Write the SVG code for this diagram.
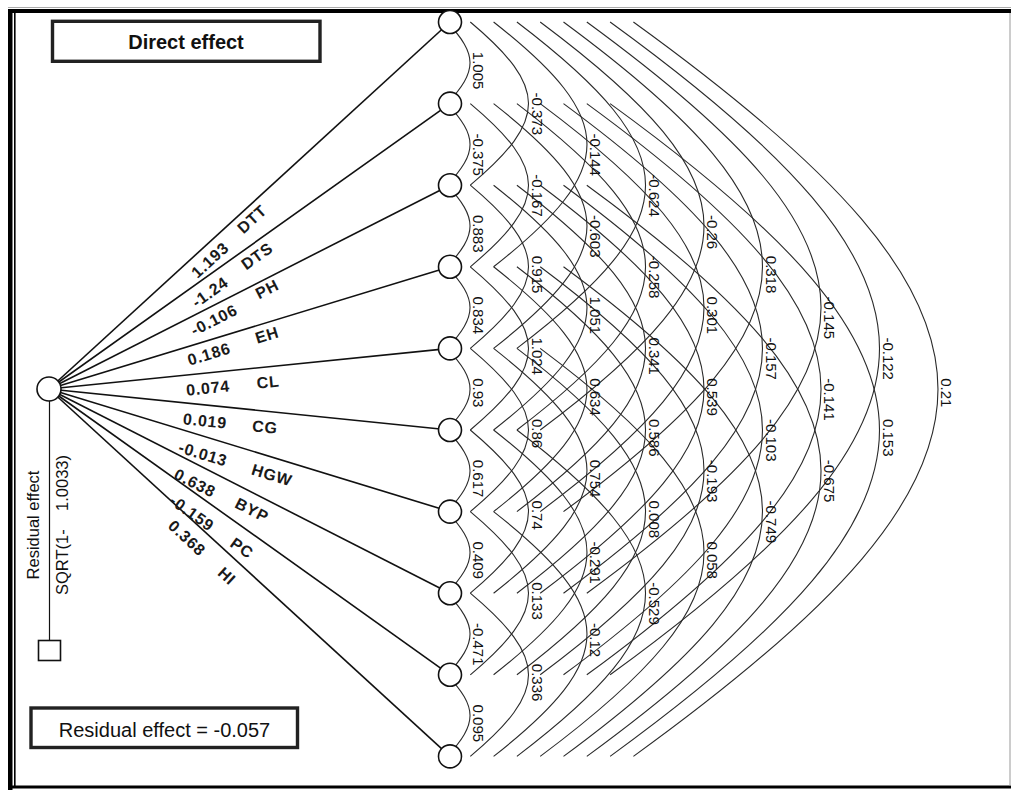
<svg xmlns="http://www.w3.org/2000/svg" width="1011" height="790" viewBox="0 0 1011 790">
<style>
.ln{stroke:#111;stroke-width:1.6;fill:none}
.arcs{stroke:#2a2a2a;stroke-width:1.1;fill:none}
.nd{fill:#fff;stroke:#111;stroke-width:1.6}
.lab{font-family:"Liberation Sans",Arial,sans-serif;font-size:15px;fill:#111}
.pl{font-family:"Liberation Sans",Arial,sans-serif;font-size:16px;font-weight:bold;letter-spacing:0.8px;fill:#1a1a1a;text-anchor:middle}
.box{fill:#fff;stroke:#222;stroke-width:3.4}
.vt{font-family:"Liberation Sans",Arial,sans-serif;font-size:16.5px;fill:#111;text-anchor:middle}
</style>
<defs>
<path id="a1" d="M0,0c30.7,32.6 30.7,49 0,81.6"/>
<path id="a2" d="M0,0c77.6,65.3 77.6,97.9 0,163.2"/>
<path id="a3" d="M0,0c124.5,97.9 124.5,146.9 0,244.8"/>
<path id="a4" d="M0,0c171.5,130.6 171.5,195.8 0,326.4"/>
<path id="a5" d="M0,0c218.4,163.2 218.4,244.8 0,408"/>
<path id="a6" d="M0,0c265.3,195.8 265.3,293.8 0,489.6"/>
<path id="a7" d="M0,0c312.3,228.5 312.3,342.7 0,571.2"/>
<path id="a8" d="M0,0c359.2,261.1 359.2,391.7 0,652.8"/>
<path id="a9" d="M0,0c406.1,293.8 406.1,440.6 0,734.4"/>
</defs>
<rect x="0" y="0" width="1011" height="790" fill="#fff"/>
<g id="frame">
<line x1="8" y1="7.5" x2="1011" y2="7.5" stroke="#aaa" stroke-width="1"/>
<rect x="8" y="9" width="1003" height="4" fill="#000"/>
<rect x="8" y="9" width="4.5" height="781" fill="#000"/>
<rect x="14" y="13" width="1.6" height="773" fill="#000"/>
<rect x="8" y="785.5" width="1003" height="3" fill="#000"/>
<line x1="1010" y1="13" x2="1010" y2="786" stroke="#999" stroke-width="1"/>
</g>
<g id="connectors">
<g class="ln">
<line x1="49" y1="389" x2="450" y2="22"/>
<line x1="49" y1="389" x2="450" y2="103.6"/>
<line x1="49" y1="389" x2="450" y2="185.2"/>
<line x1="49" y1="389" x2="450" y2="266.8"/>
<line x1="49" y1="389" x2="450" y2="348.4"/>
<line x1="49" y1="389" x2="450" y2="430"/>
<line x1="49" y1="389" x2="450" y2="511.6"/>
<line x1="49" y1="389" x2="450" y2="593.2"/>
<line x1="49" y1="389" x2="450" y2="674.8"/>
<line x1="49" y1="389" x2="450" y2="756.4"/>
<line x1="49.5" y1="400" x2="49.5" y2="641" stroke-width="1.2"/>
</g>
<g class="arcs">
<use href="#a1" x="447" y="22"/><use href="#a1" x="447" y="103.6"/><use href="#a1" x="447" y="185.2"/><use href="#a1" x="447" y="266.8"/><use href="#a1" x="447" y="348.4"/><use href="#a1" x="447" y="430"/><use href="#a1" x="447" y="511.6"/><use href="#a1" x="447" y="593.2"/><use href="#a1" x="447" y="674.8"/>
<use href="#a2" x="470.3" y="22"/><use href="#a2" x="470.3" y="103.6"/><use href="#a2" x="470.3" y="185.2"/><use href="#a2" x="470.3" y="266.8"/><use href="#a2" x="470.3" y="348.4"/><use href="#a2" x="470.3" y="430"/><use href="#a2" x="470.3" y="511.6"/><use href="#a2" x="470.3" y="593.2"/>
<use href="#a3" x="493.6" y="22"/><use href="#a3" x="493.6" y="103.6"/><use href="#a3" x="493.6" y="185.2"/><use href="#a3" x="493.6" y="266.8"/><use href="#a3" x="493.6" y="348.4"/><use href="#a3" x="493.6" y="430"/><use href="#a3" x="493.6" y="511.6"/>
<use href="#a4" x="516.9" y="22"/><use href="#a4" x="516.9" y="103.6"/><use href="#a4" x="516.9" y="185.2"/><use href="#a4" x="516.9" y="266.8"/><use href="#a4" x="516.9" y="348.4"/><use href="#a4" x="516.9" y="430"/>
<use href="#a5" x="540.2" y="22"/><use href="#a5" x="540.2" y="103.6"/><use href="#a5" x="540.2" y="185.2"/><use href="#a5" x="540.2" y="266.8"/><use href="#a5" x="540.2" y="348.4"/>
<use href="#a6" x="563.5" y="22"/><use href="#a6" x="563.5" y="103.6"/><use href="#a6" x="563.5" y="185.2"/><use href="#a6" x="563.5" y="266.8"/>
<use href="#a7" x="586.8" y="22"/><use href="#a7" x="586.8" y="103.6"/><use href="#a7" x="586.8" y="185.2"/>
<use href="#a8" x="610.1" y="22"/><use href="#a8" x="610.1" y="103.6"/>
<use href="#a9" x="633.4" y="22"/>
</g>
</g>
<g id="path-labels" class="pl">
<text transform="translate(210,260) rotate(-42.46)" dy="0.35em">1.193</text>
<text transform="translate(252,219) rotate(-42.46)" dy="0.35em">DTT</text>
<text transform="translate(210,292) rotate(-35.44)" dy="0.35em">-1.24</text>
<text transform="translate(257,256) rotate(-35.44)" dy="0.35em">DTS</text>
<text transform="translate(214,320) rotate(-26.94)" dy="0.35em">-0.106</text>
<text transform="translate(267,289) rotate(-26.94)" dy="0.35em">PH</text>
<text transform="translate(209,354) rotate(-16.95)" dy="0.35em">0.186</text>
<text transform="translate(267,335) rotate(-16.95)" dy="0.35em">EH</text>
<text transform="translate(208,388) rotate(-5.78)" dy="0.35em">0.074</text>
<text transform="translate(268,382) rotate(-5.78)" dy="0.35em">CL</text>
<text transform="translate(205,421) rotate(5.84)" dy="0.35em">0.019</text>
<text transform="translate(265,427) rotate(5.84)" dy="0.35em">CG</text>
<text transform="translate(203,454) rotate(17)" dy="0.35em">-0.013</text>
<text transform="translate(272,475) rotate(17)" dy="0.35em">HGW</text>
<text transform="translate(195,483) rotate(26.99)" dy="0.35em">0.638</text>
<text transform="translate(252,510) rotate(26.99)" dy="0.35em">BYP</text>
<text transform="translate(192,513) rotate(35.48)" dy="0.35em">-0.159</text>
<text transform="translate(242,548) rotate(35.48)" dy="0.35em">PC</text>
<text transform="translate(187,538) rotate(42.5)" dy="0.35em">0.368</text>
<text transform="translate(227,576) rotate(42.5)" dy="0.35em">HI</text>
</g>
<g id="arc-labels" class="lab">
<text x="473" y="51.8" transform="rotate(90 473 51.8)">1.005</text>
<text x="473" y="133.4" transform="rotate(90 473 133.4)">-0.375</text>
<text x="473" y="215" transform="rotate(90 473 215)">0.883</text>
<text x="473" y="296.6" transform="rotate(90 473 296.6)">0.834</text>
<text x="473" y="378.2" transform="rotate(90 473 378.2)">0.93</text>
<text x="473" y="459.8" transform="rotate(90 473 459.8)">0.617</text>
<text x="473" y="541.4" transform="rotate(90 473 541.4)">0.409</text>
<text x="473" y="623" transform="rotate(90 473 623)">-0.471</text>
<text x="473" y="704.6" transform="rotate(90 473 704.6)">0.095</text>
<text x="531.5" y="92.6" transform="rotate(90 531.5 92.6)">-0.373</text>
<text x="531.5" y="174.2" transform="rotate(90 531.5 174.2)">-0.167</text>
<text x="531.5" y="255.8" transform="rotate(90 531.5 255.8)">0.915</text>
<text x="531.5" y="337.4" transform="rotate(90 531.5 337.4)">1.024</text>
<text x="531.5" y="419" transform="rotate(90 531.5 419)">0.86</text>
<text x="531.5" y="500.6" transform="rotate(90 531.5 500.6)">0.74</text>
<text x="531.5" y="582.2" transform="rotate(90 531.5 582.2)">0.133</text>
<text x="531.5" y="663.8" transform="rotate(90 531.5 663.8)">0.336</text>
<text x="590" y="133.4" transform="rotate(90 590 133.4)">-0.144</text>
<text x="590" y="215" transform="rotate(90 590 215)">-0.603</text>
<text x="590" y="296.6" transform="rotate(90 590 296.6)">1.051</text>
<text x="590" y="378.2" transform="rotate(90 590 378.2)">0.634</text>
<text x="590" y="459.8" transform="rotate(90 590 459.8)">0.754</text>
<text x="590" y="541.4" transform="rotate(90 590 541.4)">-0.291</text>
<text x="590" y="623" transform="rotate(90 590 623)">-0.12</text>
<text x="648.5" y="174.2" transform="rotate(90 648.5 174.2)">-0.624</text>
<text x="648.5" y="255.8" transform="rotate(90 648.5 255.8)">-0.258</text>
<text x="648.5" y="337.4" transform="rotate(90 648.5 337.4)">0.341</text>
<text x="648.5" y="419" transform="rotate(90 648.5 419)">0.586</text>
<text x="648.5" y="500.6" transform="rotate(90 648.5 500.6)">0.008</text>
<text x="648.5" y="582.2" transform="rotate(90 648.5 582.2)">-0.529</text>
<text x="707" y="215" transform="rotate(90 707 215)">-0.26</text>
<text x="707" y="296.6" transform="rotate(90 707 296.6)">0.301</text>
<text x="707" y="378.2" transform="rotate(90 707 378.2)">0.539</text>
<text x="707" y="459.8" transform="rotate(90 707 459.8)">-0.193</text>
<text x="707" y="541.4" transform="rotate(90 707 541.4)">0.058</text>
<text x="765.5" y="255.8" transform="rotate(90 765.5 255.8)">0.318</text>
<text x="765.5" y="337.4" transform="rotate(90 765.5 337.4)">-0.157</text>
<text x="765.5" y="419" transform="rotate(90 765.5 419)">-0.103</text>
<text x="765.5" y="500.6" transform="rotate(90 765.5 500.6)">-0.749</text>
<text x="824" y="296.6" transform="rotate(90 824 296.6)">-0.145</text>
<text x="824" y="378.2" transform="rotate(90 824 378.2)">-0.141</text>
<text x="824" y="459.8" transform="rotate(90 824 459.8)">-0.675</text>
<text x="882.5" y="337.4" transform="rotate(90 882.5 337.4)">-0.122</text>
<text x="882.5" y="419" transform="rotate(90 882.5 419)">0.153</text>
<text x="941" y="378.2" transform="rotate(90 941 378.2)">0.21</text>
</g>
<g id="n0"><circle class="nd" cx="49" cy="389" r="12"/></g>
<g id="residual">
<rect class="nd" x="38.5" y="640.5" width="22" height="20"/>
<text class="vt" transform="translate(33,525) rotate(-90)" dy="0.35em">Residual effect</text>
<text class="vt" transform="translate(62,525) rotate(-90)" dy="0.35em" xml:space="preserve">SQRT(1-    1.0033)</text>
</g>
<g id="n1"><circle class="nd" cx="450" cy="22" r="11.5"/></g>
<g id="n2"><circle class="nd" cx="450" cy="103.6" r="11.5"/></g>
<g id="n3"><circle class="nd" cx="450" cy="185.2" r="11.5"/></g>
<g id="n4"><circle class="nd" cx="450" cy="266.8" r="11.5"/></g>
<g id="n5"><circle class="nd" cx="450" cy="348.4" r="11.5"/></g>
<g id="n6"><circle class="nd" cx="450" cy="430" r="11.5"/></g>
<g id="n7"><circle class="nd" cx="450" cy="511.6" r="11.5"/></g>
<g id="n8"><circle class="nd" cx="450" cy="593.2" r="11.5"/></g>
<g id="n9"><circle class="nd" cx="450" cy="674.8" r="11.5"/></g>
<g id="n10"><circle class="nd" cx="450" cy="756.4" r="11.5"/></g>
<g id="title-box">
<rect class="box" x="52.5" y="21.3" width="267.5" height="40"/>
<text x="186" y="48.5" font-family="Liberation Sans, Arial, sans-serif" font-size="20" font-weight="bold" text-anchor="middle" fill="#111">Direct effect</text>
</g>
<g id="residual-box">
<rect class="box" x="31" y="708" width="266.5" height="39.5"/>
<text x="164.5" y="737" font-family="Liberation Sans, Arial, sans-serif" font-size="20" text-anchor="middle" fill="#111">Residual effect = -0.057</text>
</g>
</svg>
